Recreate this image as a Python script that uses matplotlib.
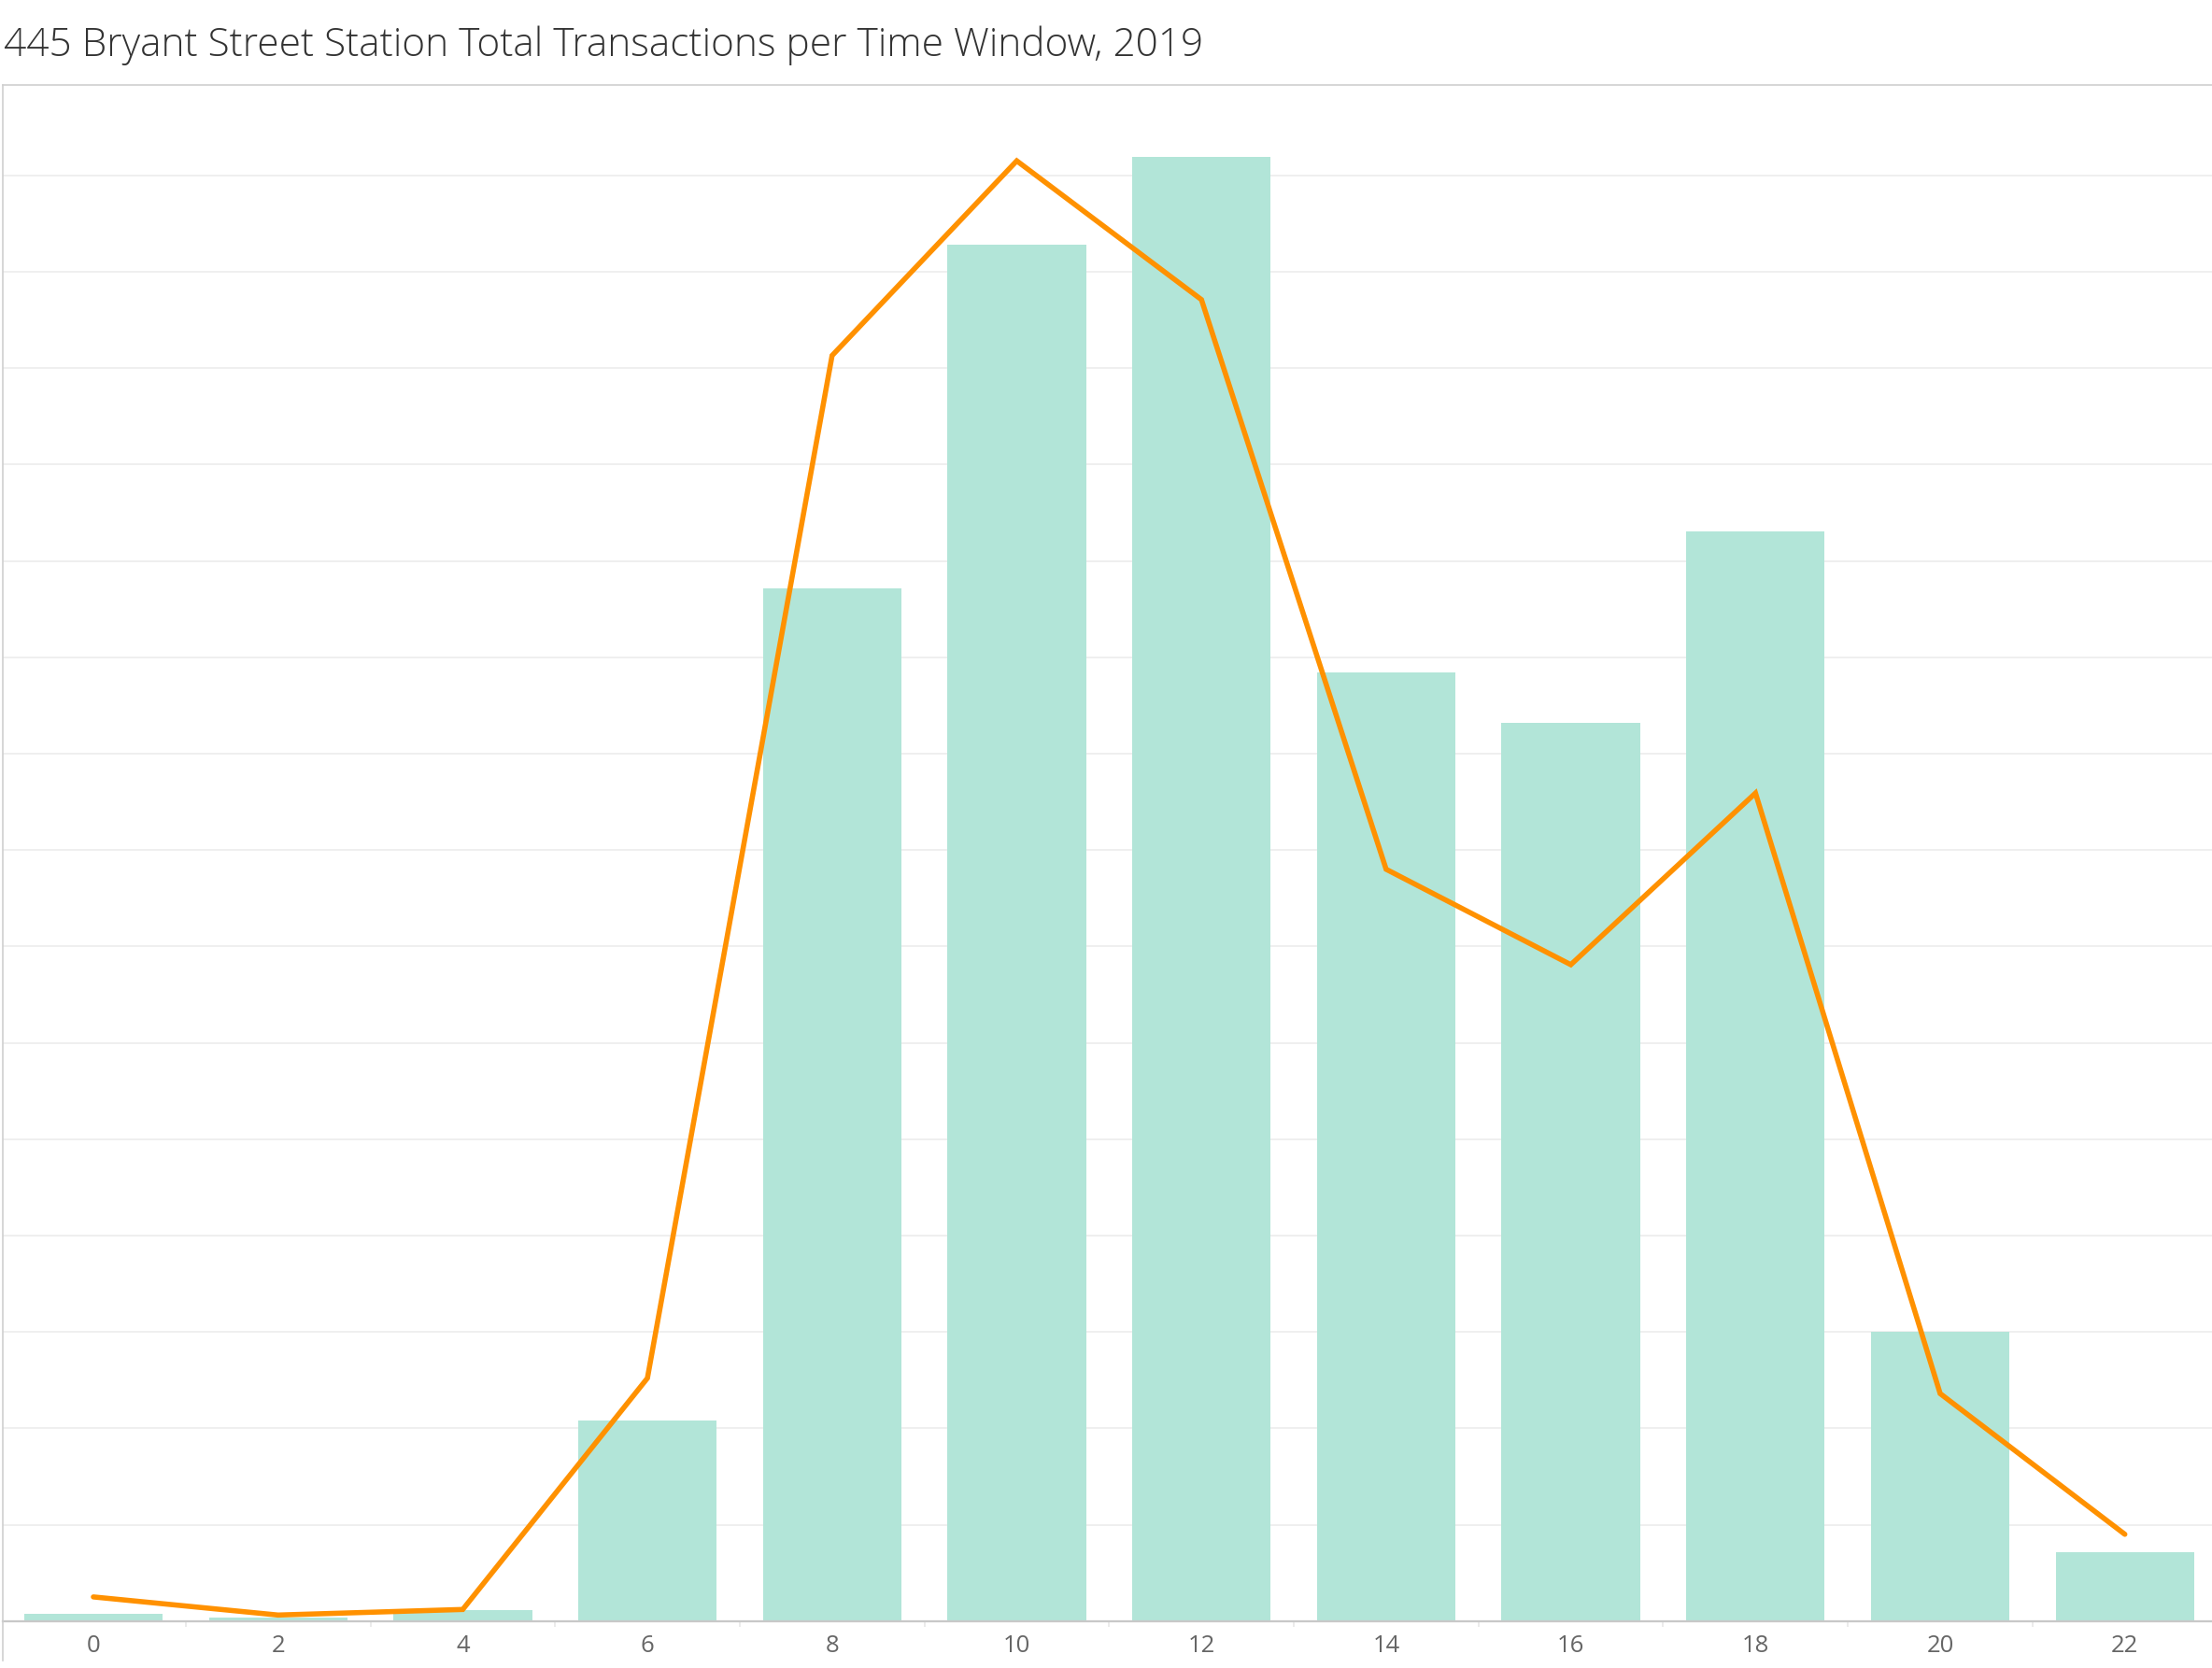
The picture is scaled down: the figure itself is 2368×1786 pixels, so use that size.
import matplotlib
matplotlib.use("Agg")
import matplotlib.pyplot as plt
from matplotlib.lines import Line2D
import numpy as np

# ---- data ----
title = "445 Bryant Street Station Total Transactions per Time Window, 2019"
hours = ["0", "2", "4", "6", "8", "10", "12", "14", "16", "18", "20", "22"]
bar_values = [7, 3.6, 11.3, 208, 1071, 1428, 1519, 984, 932, 1131, 300, 71]
line_values = [25, 6.2, 12, 252, 1313, 1515, 1371, 780, 681, 859, 236, 90]
grid_values = [100 * k for k in range(1, 16)]

W, H, DPI = 2368, 1786, 100
fig = plt.figure(figsize=(W / DPI, H / DPI), dpi=DPI)
fig.patch.set_facecolor("white")

ax_left = 2.7 / W
ax_bottom = (H - 1735.7) / H
ax_top = (H - 90.7) / H
ax = fig.add_axes([ax_left, ax_bottom, 1 - ax_left, ax_top - ax_bottom])

x = np.arange(len(hours))
ax.bar(x, bar_values, width=0.75, color="#b2e5d8", zorder=2)
ax.plot(x, line_values, color="#ff9100", linewidth=4.0, solid_joinstyle="miter",
        solid_capstyle="round", zorder=3)

ax.set_xlim(-0.492, 11.472)
ax.set_ylim(0, 1594)

for gv in grid_values:
    ax.axhline(gv, color="#efefef", linewidth=1.4, zorder=1)

ax.set_yticks([])
ax.set_xticks(x)
ax.set_xticklabels(hours, fontsize=18.5, color="#666666", family=["Open Sans", "DejaVu Sans"])
ax.tick_params(axis="x", which="major", length=0, pad=10)
ax.set_xticks(x[:-1] + 0.5, minor=True)
ax.tick_params(axis="x", which="minor", length=4, width=1.4, color="#ebebeb")

for side in ["top", "left"]:
    ax.spines[side].set_color("#cfcfcf")
    ax.spines[side].set_linewidth(1.2)
ax.spines["right"].set_visible(False)
ax.spines["bottom"].set_color("#c8c8c8")
ax.spines["bottom"].set_linewidth(1.6)

# left separator continuing through the axis header
fig.add_artist(Line2D([ax_left, ax_left], [ax_bottom, (H - 1778) / H],
                      transform=fig.transFigure, color="#cfcfcf", linewidth=1.2))

fig.text(4 / W, (H - 60) / H, title, fontsize=30.5, color="#333333",
         family=["Open Sans", "DejaVu Sans"], fontweight="light", va="baseline", ha="left")

fig.savefig("out.png", dpi=DPI, facecolor="white")
